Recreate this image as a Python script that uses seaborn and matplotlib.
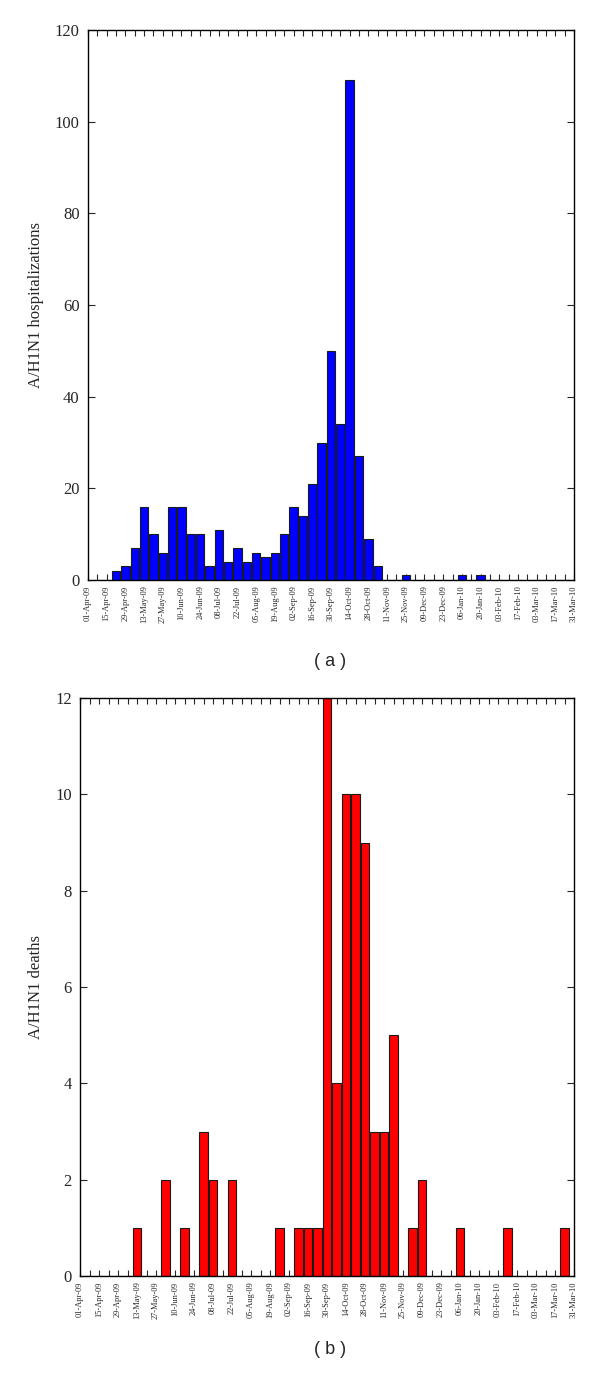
import numpy as np
import pandas as pd
import seaborn as sns
import matplotlib.pyplot as plt
from matplotlib.ticker import MultipleLocator

# weekly counts, weeks since 01-Apr-09 (week 1 = 08-Apr-09 ... week 51 = 24-Mar-10)
weeks = list(range(1, 52))
hospitalizations = [0, 0, 2, 3, 7, 16, 10, 6, 16, 16, 10, 10, 3, 11, 4, 7, 4,
                    6, 5, 6, 10, 16, 14, 21, 30, 50, 34, 109, 27, 9, 3, 0, 0,
                    1, 0, 0, 0, 0, 0, 1, 0, 1, 0, 0, 0, 0, 0, 0, 0, 0, 0]
deaths = [0, 0, 0, 0, 0, 1, 0, 0, 2, 0, 1, 0, 3, 2, 0, 2, 0,
          0, 0, 0, 1, 0, 1, 1, 1, 12, 4, 10, 10, 9, 3, 3, 5,
          0, 1, 2, 0, 0, 0, 1, 0, 0, 0, 0, 1, 0, 0, 0, 0, 0, 1]
tick_labels = ['01-Apr-09', '15-Apr-09', '29-Apr-09', '13-May-09', '27-May-09',
               '10-Jun-09', '24-Jun-09', '08-Jul-09', '22-Jul-09', '05-Aug-09',
               '19-Aug-09', '02-Sep-09', '16-Sep-09', '30-Sep-09', '14-Oct-09',
               '28-Oct-09', '11-Nov-09', '25-Nov-09', '09-Dec-09', '23-Dec-09',
               '06-Jan-10', '20-Jan-10', '03-Feb-10', '17-Feb-10', '03-Mar-10',
               '17-Mar-10', '31-Mar-10']

df = pd.DataFrame({'week': weeks, 'hosp': hospitalizations, 'deaths': deaths})

sns.set_style('ticks')
plt.rcParams['font.family'] = ['Liberation Serif', 'DejaVu Serif']

W, H = 600, 1379
fig = plt.figure(figsize=(W / 100, H / 100), dpi=100)
ax_a = fig.add_axes([88 / W, 1 - 580 / H, 486 / W, 550 / H])
ax_b = fig.add_axes([80 / W, 1 - 1276 / H, 494 / W, 578 / H])


def style_panel(ax, col, color, ymax, ystep, ylabel):
    sns.barplot(data=df, x='week', y=col, native_scale=True, color=color,
                saturation=1, width=0.9, edgecolor='#1a1a1a', linewidth=0.8,
                errorbar=None, ax=ax)
    ax.set_xlim(0, 52)
    ax.set_ylim(0, ymax)
    ax.set_xticks(np.arange(0, 53, 2))
    ax.set_xticklabels(tick_labels, rotation=90, fontsize=6)
    ax.xaxis.set_minor_locator(MultipleLocator(1))
    ax.yaxis.set_major_locator(MultipleLocator(ystep))
    ax.tick_params(axis='x', which='both', direction='in', top=True,
                   length=4, width=0.8, pad=4)
    ax.tick_params(axis='y', which='major', direction='in', right=True,
                   length=5, width=0.8, labelsize=12, pad=6)
    ax.set_xlabel('')
    ax.set_ylabel(ylabel, fontsize=12, labelpad=8)
    for s in ax.spines.values():
        s.set_linewidth(1.0)
        s.set_color('black')


style_panel(ax_a, 'hosp', '#0000ff', 120, 20, 'A/H1N1 hospitalizations')
style_panel(ax_b, 'deaths', '#ff0000', 12, 2, 'A/H1N1 deaths')

fig.text(330 / W, 1 - 662 / H, '( a )', ha='center', va='center',
         fontsize=13, family=['Liberation Sans', 'DejaVu Sans'])
fig.text(330 / W, 1 - 1350 / H, '( b )', ha='center', va='center',
         fontsize=13, family=['Liberation Sans', 'DejaVu Sans'])

fig.savefig('out.png', dpi=100)
